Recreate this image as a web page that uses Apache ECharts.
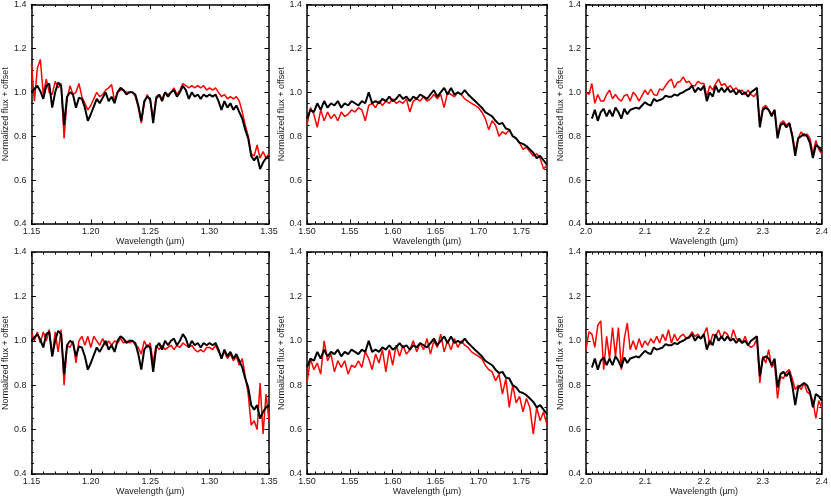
<!DOCTYPE html>
<html><head><meta charset="utf-8">
<script src="https://cdn.jsdelivr.net/npm/echarts@6/dist/echarts.min.js"></script>
<style>html,body{margin:0;padding:0;background:#fff}#c{width:831px;height:497px}</style>
</head><body><div id="c"></div>
<script>
// ---- axis ranges / ticks ----
const jRange = [1.15, 1.35], jTickStep = 0.05;
const hRange = [1.50, 1.78], hTickStep = 0.05;
const kRange = [2.00, 2.40], kTickStep = 0.1;
const fluxRange = [0.4, 1.4], fluxTickStep = 0.2;

// wavelength sampling of the read-off spectra (start, step)
const jSampling = [1.15, 0.0025];
const hSampling = [1.50, 0.004];
const kSampling = [2.00, 0.005];

// ---- J band ----
const jBlack = [1.00,1.015,1.03,1.005,0.97,1.03,1.04,0.93,1.00,1.045,1.03,0.85,0.98,1.00,0.99,0.93,0.975,0.97,0.93,0.87,
0.90,0.935,0.97,0.95,0.975,1.00,0.96,0.98,0.95,1.00,1.02,1.01,0.99,1.00,1.00,0.99,0.94,0.87,0.96,0.98,
0.97,0.86,0.97,0.99,0.96,1.00,0.98,1.00,1.01,0.98,1.00,1.03,1.01,0.97,1.00,0.98,0.99,0.97,0.99,0.98,
0.99,0.98,0.99,0.96,0.92,0.96,0.93,0.95,0.92,0.94,0.91,0.88,0.83,0.79,0.71,0.69,0.71,0.65,0.68,0.70,0.71];
const jRedTop = [1.13,0.96,1.11,1.15,0.99,1.06,1.00,0.99,1.05,1.02,1.04,0.79,0.97,1.03,0.99,1.00,1.04,0.98,0.95,0.92,
0.94,0.97,1.00,0.98,0.99,1.01,1.02,1.035,0.96,1.00,1.01,1.01,1.00,1.00,1.00,0.98,0.93,0.86,0.95,0.99,
0.96,0.88,0.98,0.99,0.97,1.00,0.99,1.00,1.02,0.99,1.01,1.04,1.03,1.02,1.03,1.02,1.03,1.02,1.03,1.01,
1.02,1.01,1.02,1.00,0.98,0.99,0.97,0.98,0.97,0.98,0.96,0.91,0.85,0.80,0.72,0.71,0.76,0.70,0.73,0.70,0.72];
const jRedBottom = [1.04,1.00,1.04,0.99,1.04,1.00,1.05,0.93,1.04,0.95,1.05,0.80,0.98,0.97,1.00,0.90,1.00,1.02,0.98,1.02,
0.97,1.02,1.00,0.98,1.01,0.98,1.00,0.98,1.00,0.99,1.01,0.99,1.00,0.99,1.00,0.98,0.97,0.94,1.00,0.97,
0.99,0.90,0.98,0.96,0.98,0.96,0.97,0.98,0.96,0.98,0.97,0.99,0.98,0.97,0.98,0.96,0.95,0.96,0.95,0.97,
0.97,0.96,0.98,0.95,0.93,0.95,0.92,0.94,0.91,0.93,0.89,0.92,0.84,0.76,0.62,0.64,0.60,0.81,0.58,0.76,0.64];

// ---- H band ----
const hBlack = [0.88,0.92,0.91,0.95,0.92,0.96,0.93,0.95,0.94,0.96,0.93,0.95,0.94,0.96,0.95,0.94,0.96,0.95,1.00,0.95,
0.96,0.95,0.97,0.96,0.98,0.96,0.97,0.99,0.97,0.98,0.96,0.98,0.97,0.99,0.98,0.97,0.99,1.01,0.98,1.00,
1.02,0.99,1.02,0.99,1.00,0.99,1.01,0.99,0.975,0.96,0.945,0.93,0.91,0.90,0.89,0.87,0.855,0.86,0.835,0.83,
0.80,0.79,0.77,0.765,0.755,0.74,0.725,0.70,0.71,0.69,0.67];
const hRedTop = [0.85,0.93,0.90,0.84,0.92,0.87,0.91,0.88,0.90,0.87,0.91,0.89,0.90,0.92,0.91,0.93,0.92,0.87,0.94,0.95,
0.93,0.96,0.94,0.96,0.95,0.97,0.95,0.96,0.95,0.97,0.91,0.96,0.97,0.96,0.98,0.96,0.97,0.99,0.97,0.99,
0.93,1.00,0.99,0.98,1.00,0.99,0.97,0.96,0.95,0.94,0.93,0.91,0.88,0.83,0.87,0.85,0.80,0.82,0.81,0.83,
0.80,0.79,0.77,0.74,0.75,0.73,0.71,0.72,0.70,0.65,0.67];
const hRedBottom = [0.81,0.92,0.87,0.90,0.85,1.00,0.91,0.94,0.86,0.91,0.88,0.91,0.85,0.89,0.88,0.91,0.88,0.95,0.92,0.87,
0.94,0.90,0.96,0.86,0.96,0.89,0.98,0.93,0.98,0.94,0.96,1.00,0.95,0.99,0.96,1.01,0.94,1.00,0.97,1.03,
0.95,1.00,0.96,1.01,0.97,1.00,0.98,0.97,0.95,0.94,0.93,0.92,0.89,0.87,0.86,0.82,0.85,0.76,0.83,0.70,
0.80,0.72,0.75,0.68,0.74,0.70,0.58,0.70,0.64,0.68,0.62];

// ---- K band ----
const kBlack = [null,null,0.88,0.92,0.87,0.91,0.925,0.89,0.92,0.89,0.93,0.91,0.88,0.925,0.90,0.92,0.925,0.93,0.925,0.94,
0.955,0.945,0.94,0.97,0.96,0.965,0.97,0.985,0.98,0.98,0.99,0.985,0.995,1.00,1.01,1.015,1.03,1.00,1.02,1.01,
1.03,0.96,1.00,0.98,1.03,1.00,1.02,1.00,1.02,1.00,1.01,0.99,1.01,0.99,1.00,0.98,1.00,1.01,1.02,0.84,
0.92,0.93,0.92,0.89,0.92,0.79,0.85,0.86,0.84,0.86,0.80,0.71,0.79,0.80,0.81,0.80,0.77,0.70,0.76,0.75,0.73];
const kRedTop = [1.00,0.99,1.04,0.95,0.99,0.96,0.96,0.99,1.01,0.97,0.99,0.97,0.96,0.985,0.99,0.96,1.00,0.985,0.96,0.985,
1.01,0.99,1.015,0.99,0.985,1.015,1.01,1.03,1.05,1.06,1.02,1.045,1.05,1.07,1.045,1.05,1.03,1.03,1.05,1.04,
1.04,0.98,1.03,1.01,1.04,1.06,1.03,1.04,1.02,1.03,1.01,1.02,1.00,1.01,0.99,1.01,0.99,0.98,1.00,0.86,
0.93,0.94,0.92,0.90,0.92,0.80,0.86,0.87,0.85,0.86,0.81,0.73,0.79,0.82,0.80,0.81,0.79,0.72,0.78,0.74,0.72];
const kRedBottom = [0.96,1.04,1.03,0.97,1.07,1.09,0.87,1.02,0.92,1.06,0.93,1.06,0.87,1.01,1.08,0.96,1.00,0.96,1.01,0.97,
1.00,0.98,1.01,0.99,1.02,0.99,1.03,1.00,1.05,0.99,1.03,1.00,1.02,1.03,1.01,1.02,1.04,1.02,1.03,1.01,
1.03,1.06,0.98,1.03,1.02,1.05,1.01,1.04,1.03,1.00,1.05,1.01,1.00,0.99,1.02,0.98,0.97,0.98,1.01,0.81,
0.93,0.90,0.96,0.88,0.90,0.74,0.84,0.83,0.86,0.87,0.83,0.78,0.80,0.78,0.81,0.77,0.76,0.73,0.65,0.73,0.70];

const xTitle = 'Wavelength (\u00b5m)';
const yTitle = 'Normalized flux + offset';

function pairs(sampling, values) {
  return values.map((v, i) => [+(sampling[0] + i * sampling[1]).toFixed(4), v]);
}

const cols = [{left: 30, width: 239}, {left: 307, width: 240}, {left: 586, width: 239}];
const rows = [{top: 1, height: 223, nameGap: 11}, {top: 252, height: 222, nameGap: 12}];

const panels = [
  {row: 0, col: 0, range: jRange, step: jTickStep, minor: 5, dec: 2, s: jSampling, red: jRedTop, black: jBlack},
  {row: 0, col: 1, range: hRange, step: hTickStep, minor: 5, dec: 2, s: hSampling, red: hRedTop, black: hBlack},
  {row: 0, col: 2, range: kRange, step: kTickStep, minor: 10, dec: 1, s: kSampling, red: kRedTop, black: kBlack},
  {row: 1, col: 0, range: jRange, step: jTickStep, minor: 5, dec: 2, s: jSampling, red: jRedBottom, black: jBlack},
  {row: 1, col: 1, range: hRange, step: hTickStep, minor: 5, dec: 2, s: hSampling, red: hRedBottom, black: hBlack},
  {row: 1, col: 2, range: kRange, step: kTickStep, minor: 10, dec: 1, s: kSampling, red: kRedBottom, black: kBlack}
];

const FONT = 'Liberation Sans, Arial, sans-serif';
const txt = '#222';
const axisLine = {show: true, onZero: false, lineStyle: {color: '#000', width: 1.5}};
const tick = {show: true, inside: true, length: 4.5, lineStyle: {color: '#000', width: 1}};
const minorTickStyle = (n) => ({show: true, splitNumber: n, length: 2.5, lineStyle: {color: '#000', width: 1}});

const grid = [], xAxis = [], yAxis = [], series = [];
panels.forEach((p, k) => {
  const c = cols[p.col], r = rows[p.row];
  grid.push({left: c.left, width: c.width, top: r.top, height: r.height, containLabel: false, show: false});
  const xBase = {
    type: 'value', gridIndex: k, min: p.range[0], max: p.range[1], interval: p.step,
    axisLine, axisTick: tick, minorTick: minorTickStyle(p.minor), splitLine: {show: false}, minorSplitLine: {show: false}
  };
  xAxis.push(Object.assign({}, xBase, {
    position: 'bottom',
    name: xTitle, nameLocation: 'middle', nameGap: r.nameGap,
    nameTextStyle: {fontFamily: FONT, fontSize: 9, color: txt},
    axisLabel: {show: true, margin: 3, fontFamily: FONT, fontSize: 9, color: txt, showMaxLabel: p.col !== 1,
      formatter: v => v.toFixed(p.dec)}
  }));
  xAxis.push(Object.assign({}, xBase, {position: 'top', axisLabel: {show: false}}));
  const yBase = {
    type: 'value', gridIndex: k, min: fluxRange[0], max: fluxRange[1], interval: fluxTickStep,
    axisLine, axisTick: tick, minorTick: minorTickStyle(4), splitLine: {show: false}, minorSplitLine: {show: false}
  };
  yAxis.push(Object.assign({}, yBase, {
    position: 'left',
    name: yTitle, nameLocation: 'middle', nameRotate: 90, nameGap: 20,
    nameTextStyle: {fontFamily: FONT, fontSize: 9, color: txt},
    axisLabel: {show: true, margin: 5, fontFamily: FONT, fontSize: 9, color: txt, formatter: v => v.toFixed(1)}
  }));
  yAxis.push(Object.assign({}, yBase, {position: 'right', axisLabel: {show: false}}));
  series.push({
    type: 'line', xAxisIndex: 2 * k, yAxisIndex: 2 * k, data: pairs(p.s, p.red),
    showSymbol: false, symbol: 'none', connectNulls: false, clip: true,
    lineStyle: {color: '#ff0000', width: 1.5}, itemStyle: {color: '#ff0000'}, z: 2
  });
  series.push({
    type: 'line', xAxisIndex: 2 * k, yAxisIndex: 2 * k, data: pairs(p.s, p.black),
    showSymbol: false, symbol: 'none', connectNulls: false, clip: true,
    lineStyle: {color: '#000000', width: 2}, itemStyle: {color: '#000000'}, z: 3
  });
});

const chart = echarts.init(document.getElementById('c'), null, {renderer: 'canvas'});
chart.setOption({animation: false, backgroundColor: '#fff', grid, xAxis, yAxis, series});
</script>
</body></html>
